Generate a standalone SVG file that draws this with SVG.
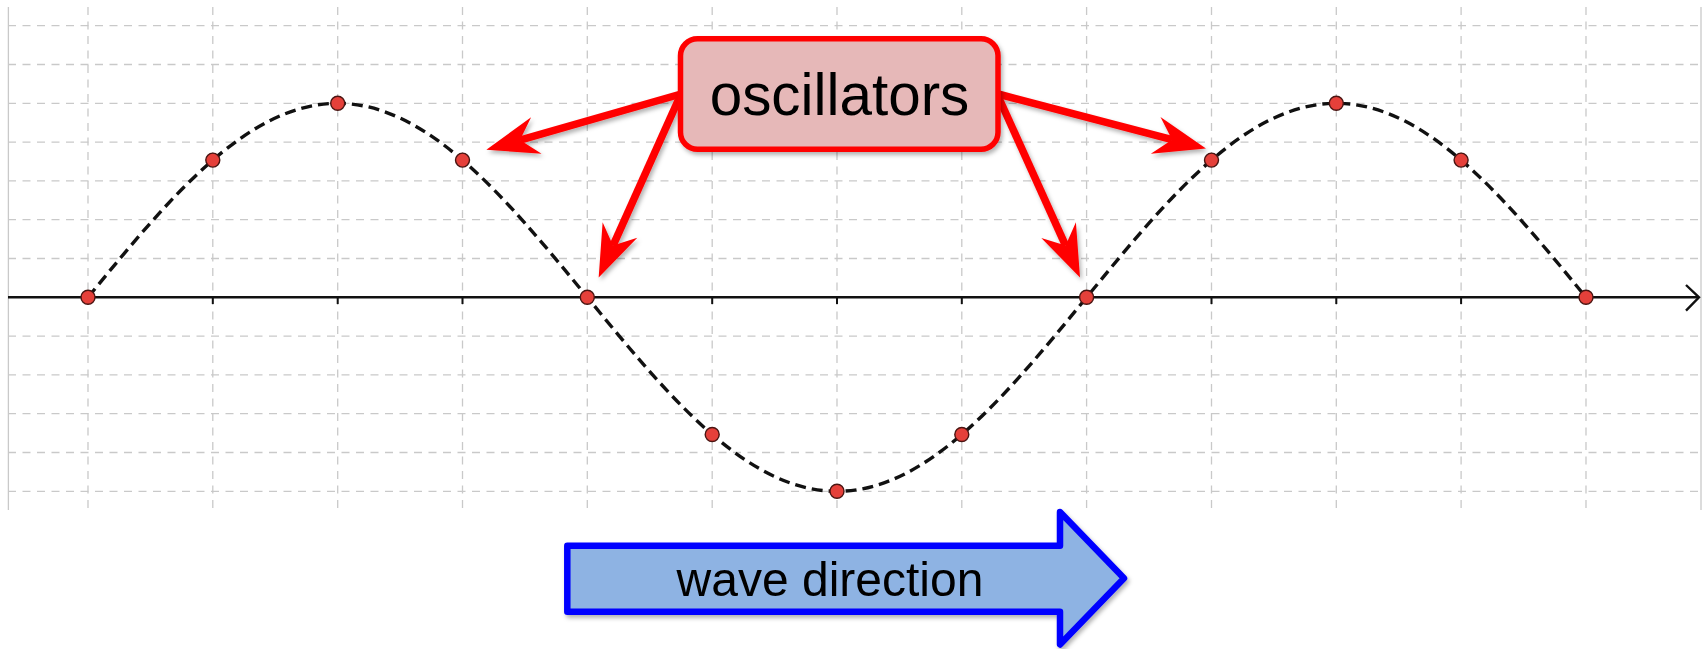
<svg xmlns="http://www.w3.org/2000/svg" width="1703" height="649" viewBox="0 0 1703 649">
<style>
.grid line{stroke:#c9c9c9;stroke-width:1.3;stroke-dasharray:8 6.5}
.border{stroke:#c9c9c9;stroke-width:1.3}
.tick{stroke:#111;stroke-width:2}
.wave{fill:none;stroke:#111;stroke-width:3.4;stroke-dasharray:11 6}
.dot{fill:#e5403a;stroke:#4a1512;stroke-width:1.4}
.conn{stroke:#ff0000;stroke-width:7.5;fill:none;marker-end:url(#redhead)}
.lbl{font-family:"Liberation Sans",Arial,sans-serif;fill:#000}
</style>
<defs>
<marker id="redhead" markerUnits="userSpaceOnUse" markerWidth="62" markerHeight="46" viewBox="-22 -23 62 46" refX="0" refY="0" orient="auto">
<path d="M35,0 L-17,-19 L0,0 L-17,19 Z" fill="#ff0000"/>
</marker>
<filter id="sh" x="-10%" y="-10%" width="130%" height="140%">
<feDropShadow dx="2" dy="3" stdDeviation="2" flood-color="#000" flood-opacity="0.3"/>
</filter>
</defs>
<rect width="1703" height="649" fill="#fff"/>
<g id="grid" class="grid">
<line x1="8" y1="25.7" x2="1701" y2="25.7"/>
<line x1="8" y1="64.5" x2="1701" y2="64.5"/>
<line x1="8" y1="103.3" x2="1701" y2="103.3"/>
<line x1="8" y1="142.1" x2="1701" y2="142.1"/>
<line x1="8" y1="180.9" x2="1701" y2="180.9"/>
<line x1="8" y1="219.7" x2="1701" y2="219.7"/>
<line x1="8" y1="258.5" x2="1701" y2="258.5"/>
<line x1="8" y1="336.1" x2="1701" y2="336.1"/>
<line x1="8" y1="374.9" x2="1701" y2="374.9"/>
<line x1="8" y1="413.7" x2="1701" y2="413.7"/>
<line x1="8" y1="452.5" x2="1701" y2="452.5"/>
<line x1="8" y1="491.3" x2="1701" y2="491.3"/>
<line x1="88" y1="7" x2="88" y2="510"/>
<line x1="212.8" y1="7" x2="212.8" y2="510"/>
<line x1="337.7" y1="7" x2="337.7" y2="510"/>
<line x1="462.5" y1="7" x2="462.5" y2="510"/>
<line x1="587.3" y1="7" x2="587.3" y2="510"/>
<line x1="712.2" y1="7" x2="712.2" y2="510"/>
<line x1="837" y1="7" x2="837" y2="510"/>
<line x1="961.8" y1="7" x2="961.8" y2="510"/>
<line x1="1086.6" y1="7" x2="1086.6" y2="510"/>
<line x1="1211.5" y1="7" x2="1211.5" y2="510"/>
<line x1="1336.3" y1="7" x2="1336.3" y2="510"/>
<line x1="1461.1" y1="7" x2="1461.1" y2="510"/>
<line x1="1586" y1="7" x2="1586" y2="510"/>
</g>
<g id="frame">
<line class="border" x1="8.4" y1="7" x2="8.4" y2="510"/>
<line class="border" x1="1701" y1="7" x2="1701" y2="510"/>
</g>
<g id="axis">
<line x1="8" y1="297.3" x2="1698" y2="297.3" stroke="#111" stroke-width="2.4"/>
<path d="M1686,285 L1699,297.3 L1686,310.7" fill="none" stroke="#111" stroke-width="2.4"/>
<line class="tick" x1="212.8" y1="297" x2="212.8" y2="304"/>
<line class="tick" x1="337.7" y1="297" x2="337.7" y2="304"/>
<line class="tick" x1="462.5" y1="297" x2="462.5" y2="304"/>
<line class="tick" x1="712.2" y1="297" x2="712.2" y2="304"/>
<line class="tick" x1="837" y1="297" x2="837" y2="304"/>
<line class="tick" x1="961.8" y1="297" x2="961.8" y2="304"/>
<line class="tick" x1="1211.5" y1="297" x2="1211.5" y2="304"/>
<line class="tick" x1="1336.3" y1="297" x2="1336.3" y2="304"/>
<line class="tick" x1="1461.1" y1="297" x2="1461.1" y2="304"/>
</g>
<g id="wave">
<path class="wave" d="M88,297.3 C169.42,197.92 247.31,103.3 337.66,103.3 C428.01,103.3 505.9,197.92 587.32,297.3 C668.74,396.68 746.63,491.3 836.98,491.3 C927.33,491.3 1005.22,396.68 1086.64,297.3 C1168.06,197.92 1245.95,103.3 1336.3,103.3 C1426.65,103.3 1504.54,197.92 1585.96,297.3"/>
</g>
<g id="oscillator-dots">
<circle class="dot" cx="88" cy="297.3" r="7"/>
<circle class="dot" cx="212.8" cy="160.1" r="7"/>
<circle class="dot" cx="337.7" cy="103.3" r="7"/>
<circle class="dot" cx="462.5" cy="160.1" r="7"/>
<circle class="dot" cx="587.3" cy="297.3" r="7"/>
<circle class="dot" cx="712.2" cy="434.5" r="7"/>
<circle class="dot" cx="837" cy="491.3" r="7"/>
<circle class="dot" cx="961.8" cy="434.5" r="7"/>
<circle class="dot" cx="1086.6" cy="297.3" r="7"/>
<circle class="dot" cx="1211.5" cy="160.1" r="7"/>
<circle class="dot" cx="1336.3" cy="103.3" r="7"/>
<circle class="dot" cx="1461.1" cy="160.1" r="7"/>
<circle class="dot" cx="1586" cy="297.3" r="7"/>
</g>
<g id="connectors" filter="url(#sh)">
<line class="conn" x1="681" y1="94" x2="520" y2="140.1"/>
<line class="conn" x1="681" y1="94" x2="613" y2="245.6"/>
<line class="conn" x1="998" y1="96" x2="1065.6" y2="245.6"/>
<line class="conn" x1="998" y1="94" x2="1172.1" y2="139.7"/>
</g>
<g id="oscillators-label" filter="url(#sh)">
<rect x="680.5" y="38.8" width="317.5" height="110.4" rx="17" fill="#e6b8b8" stroke="#ff0000" stroke-width="5.5"/>
<text class="lbl" x="839.5" y="115" font-size="58.4" text-anchor="middle">oscillators</text>
</g>
<g id="wave-direction" filter="url(#sh)">
<path d="M567.3,545.7 L1060,545.7 L1060,512 L1124,578.3 L1060,644.5 L1060,611.7 L567.3,611.7 Z" fill="#8eb3e3" stroke="#0000ff" stroke-width="6.5" stroke-linejoin="round"/>
<text class="lbl" x="830" y="596" font-size="48" text-anchor="middle">wave direction</text>
</g>
</svg>
